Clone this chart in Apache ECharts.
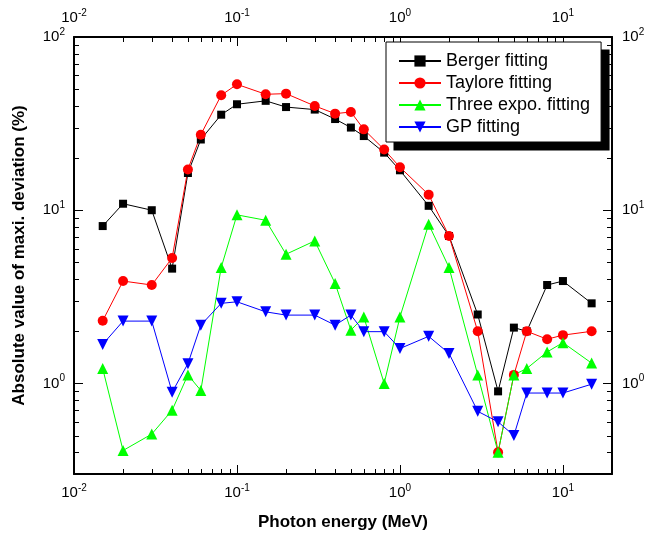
<!DOCTYPE html>
<html>
<head>
<meta charset="utf-8">
<script src="https://cdn.jsdelivr.net/npm/echarts@6/dist/echarts.min.js"></script>
<style>
  html, body { margin: 0; padding: 0; background: #fff; }
  #chart { width: 658px; height: 533px; }
</style>
</head>
<body>
<div id="chart"></div>
<script>
// photon energy (MeV)
const energy = [0.015, 0.02, 0.03, 0.04, 0.05, 0.06, 0.08, 0.1, 0.15, 0.2, 0.3, 0.4, 0.5, 0.6, 0.8, 1, 1.5, 2, 3, 4, 5, 6, 8, 10, 15]
// absolute value of maxi. deviation (%)
const berger = [8.1, 10.9, 10.0, 4.6, 16.4, 25.6, 35.6, 40.9, 42.8, 39.4, 38.1, 33.6, 30.0, 26.8, 21.5, 17.0, 10.6, 7.1, 2.5, 0.9, 2.1, 2.0, 3.7, 3.9, 2.9]
const taylore = [2.3, 3.9, 3.7, 5.3, 17.2, 27.3, 46.1, 53.3, 46.7, 47.1, 40.0, 36.1, 36.9, 29.3, 22.4, 17.7, 12.3, 7.1, 2.0, 0.4, 1.12, 2.0, 1.8, 1.9, 2.0]
const threeExpo = [1.22, 0.41, 0.51, 0.7, 1.12, 0.91, 4.67, 9.4, 8.75, 5.57, 6.65, 3.78, 2.03, 2.42, 1.0, 2.42, 8.3, 4.67, 1.12, 0.4, 1.12, 1.22, 1.52, 1.72, 1.31]
const gp = [1.68, 2.29, 2.29, 0.89, 1.3, 2.17, 2.9, 2.96, 2.59, 2.48, 2.48, 2.17, 2.48, 1.99, 1.99, 1.59, 1.87, 1.49, 0.69, 0.6, 0.5, 0.88, 0.88, 0.88, 0.99]

const legendNames = ['Berger fitting', 'Taylore fitting', 'Three expo. fitting', 'GP fitting']
const xRange = [0.01, 20]
const yRange = [0.3, 100]
const xDecades = [-2, -1, 0, 1]
const yDecades = [-1, 0, 1]

const FONT = '"Liberation Sans", Arial, Helvetica, sans-serif'
const MAJOR_LEN = 9
const MINOR_LEN = 5

function pair(vals) {
  return energy.map((e, i) => [e, vals[i]])
}

// tick values inside the axis range: 1..9 x 10^d, major at 1
function tickList(decades, range) {
  const out = []
  decades.forEach(d => {
    for (let m = 1; m <= 9; m++) {
      const v = m * Math.pow(10, d)
      if (v <= range[0] * 1.0001 || v >= range[1] * 0.9999) continue
      out.push([v, m === 1 ? MAJOR_LEN : MINOR_LEN])
    }
  })
  return out
}

function powLabel(v) {
  const p = Math.log10(v)
  const r = Math.round(p)
  if (Math.abs(p - r) > 1e-6) return ''
  return '{b|10}{s|' + r + '}'
}

const labelRich = {
  b: { fontSize: 15, fontFamily: FONT, color: '#000', lineHeight: 20 },
  s: { fontSize: 10, fontFamily: FONT, color: '#000', lineHeight: 10, verticalAlign: 'top' }
}

function xAxisOpt(pos, extra) {
  return Object.assign({
    type: 'log',
    logBase: 10,
    position: pos,
    min: xRange[0],
    max: xRange[1],
    axisLine: { show: true, onZero: false, lineStyle: { color: '#000', width: 2 } },
    axisTick: { show: true, inside: true, length: MAJOR_LEN, lineStyle: { color: '#000', width: 1 } },
    axisLabel: { show: true, margin: 9, formatter: powLabel, rich: labelRich, showMaxLabel: false },
    splitLine: { show: false }
  }, extra)
}

function yAxisOpt(pos, extra) {
  return Object.assign({
    type: 'log',
    logBase: 10,
    position: pos,
    min: yRange[0],
    max: yRange[1],
    axisLine: { show: true, onZero: false, lineStyle: { color: '#000', width: 2 } },
    axisTick: { show: true, inside: true, length: MAJOR_LEN, lineStyle: { color: '#000', width: 1 } },
    axisLabel: { show: true, margin: 9, formatter: powLabel, rich: labelRich, showMinLabel: false },
    splitLine: { show: false }
  }, extra)
}

function lineSeries(name, vals, color, symbol, size, extra) {
  return Object.assign({
    name: name,
    type: 'line',
    data: pair(vals),
    symbol: symbol,
    symbolSize: size,
    showAllSymbol: true,
    lineStyle: { color: color, width: 1 },
    itemStyle: { color: color },
    emphasis: { disabled: true },
    animation: false
  }, extra)
}

const tickStyle = { stroke: '#000', lineWidth: 1 }

// ticks on bottom and top edges, placed with the axes' own scales
function renderXTick(params, api) {
  const v = api.value(0)
  const len = api.value(2)
  const b = api.coord([v, yRange[0]])
  const t = api.coord([v, yRange[1]])
  const x = Math.round(b[0]) + 0.5
  return {
    type: 'group',
    children: [
      { type: 'line', shape: { x1: x, y1: b[1], x2: x, y2: b[1] - len }, style: tickStyle },
      { type: 'line', shape: { x1: x, y1: t[1], x2: x, y2: t[1] + len }, style: tickStyle }
    ]
  }
}

// ticks on left and right edges
function renderYTick(params, api) {
  const v = api.value(1)
  const len = api.value(2)
  const l = api.coord([xRange[0], v])
  const r = api.coord([xRange[1], v])
  const y = Math.round(l[1]) + 0.5
  return {
    type: 'group',
    children: [
      { type: 'line', shape: { x1: l[0], y1: y, x2: l[0] + len, y2: y }, style: tickStyle },
      { type: 'line', shape: { x1: r[0], y1: y, x2: r[0] - len, y2: y }, style: tickStyle }
    ]
  }
}

const xTicks = tickList(xDecades, xRange).map(t => [t[0], 1, t[1]])
const yTicks = tickList(yDecades, yRange).map(t => [1, t[0], t[1]])

const chart = echarts.init(document.getElementById('chart'))

chart.setOption({
  backgroundColor: '#fff',
  animation: false,
  grid: { left: 74, right: 46, top: 37, bottom: 59, outerBoundsMode: 'none', containLabel: false },
  xAxis: [
    xAxisOpt('bottom', {
      name: 'Photon energy (MeV)',
      nameLocation: 'middle',
      nameGap: 40,
      nameTextStyle: { fontSize: 17, fontWeight: 'bold', color: '#000', fontFamily: FONT }
    }),
    xAxisOpt('top', {})
  ],
  yAxis: [
    yAxisOpt('left', {
      name: 'Absolute value of maxi. deviation (%)',
      nameLocation: 'middle',
      nameGap: 46,
      nameTextStyle: { fontSize: 17, fontWeight: 'bold', color: '#000', fontFamily: FONT }
    }),
    yAxisOpt('right', { axisLabel: { show: true, margin: 10, formatter: powLabel, rich: labelRich, showMinLabel: false } })
  ],
  legend: {
    orient: 'vertical',
    left: 386,
    top: 42,
    z: 10,
    padding: [10, 11, 6, 12],
    itemGap: 4,
    itemWidth: 42,
    itemHeight: 14,
    backgroundColor: '#fff',
    borderColor: '#000',
    borderWidth: 1,
    textStyle: { fontSize: 18, color: '#000', fontFamily: FONT },
    data: legendNames
  },
  series: [
    {
      name: 'xticks', type: 'custom', renderItem: renderXTick, data: xTicks,
      encode: { x: 0, y: 1 }, clip: false, silent: true, z: 3, animation: false
    },
    {
      name: 'yticks', type: 'custom', renderItem: renderYTick, data: yTicks,
      encode: { x: 0, y: 1 }, clip: false, silent: true, z: 3, animation: false
    },
    lineSeries(legendNames[0], berger, '#000000', 'rect', 8),
    lineSeries(legendNames[1], taylore, '#ff0000', 'circle', 10),
    lineSeries(legendNames[2], threeExpo, '#00ff00', 'triangle', 11),
    lineSeries(legendNames[3], gp, '#0000ff', 'triangle', 11, { symbolRotate: 180 })
  ]
})

// hard drop shadow behind the legend box: same size, shifted 8px right and down
const lg = chart.getModel().getComponent('legend', 0)
const lgView = chart.getViewOfComponentModel && chart.getViewOfComponentModel(lg)
if (lgView && lgView.group) {
  const r = lgView.group.getBoundingRect()
  chart.setOption({
    graphic: [{
      type: 'rect', silent: true, z: 1,
      shape: { x: lgView.group.x + r.x + 8, y: lgView.group.y + r.y + 8, width: r.width, height: r.height },
      style: { fill: '#000' }
    }]
  })
}
</script>
</body>
</html>
